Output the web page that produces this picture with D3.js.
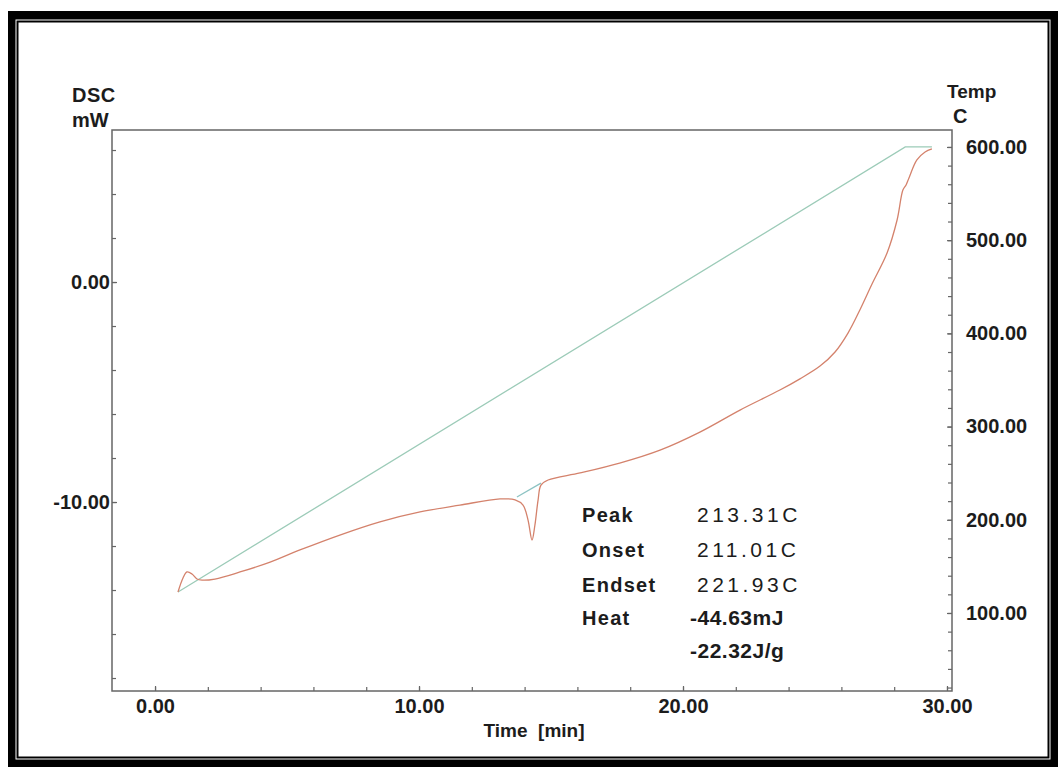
<!DOCTYPE html>
<html>
<head>
<meta charset="utf-8">
<script src="https://cdn.jsdelivr.net/npm/d3@7"></script>
<style>
body { margin: 0; background: #fff; }
text { font-family: "Liberation Sans", Arial, sans-serif; fill: #1c1c1c; }
</style>
</head>
<body>
<svg width="1060" height="767"></svg>
<script>
// tick labels
var timeTicks = [0, 10, 20, 30];
var dscTicks = [0, -10];
var tempTicks = [100, 200, 300, 400, 500, 600];

// DSC signal (mW) against time (min)
var dscTime = [0.87, 1.06, 1.21, 1.40, 1.59, 1.78, 2.27, 3.22, 4.36, 5.49, 7.0, 8.52, 10.04, 11.55, 13.07, 13.64, 13.94, 14.13, 14.28, 14.39, 14.51, 14.62, 14.89, 16.1, 17.6, 19.13, 20.64, 22.16, 23.67, 24.43, 25.19, 25.76, 26.25, 26.7, 27.16, 27.73, 28.11, 28.33, 28.45, 28.56, 28.86, 29.17, 29.43];
var dscValue = [-14.09, -13.45, -13.18, -13.27, -13.5, -13.55, -13.5, -13.18, -12.73, -12.18, -11.5, -10.9, -10.45, -10.14, -9.86, -9.9, -10.14, -10.82, -11.73, -11.05, -9.91, -9.23, -9.0, -8.68, -8.23, -7.64, -6.82, -5.82, -4.91, -4.4, -3.82, -3.18, -2.32, -1.27, -0.09, 1.32, 2.82, 4.18, 4.41, 4.73, 5.55, 5.91, 6.05];

// temperature programme (C)
var tempTime = [0.87, 28.42, 29.43];
var tempValue = [122.5, 600, 600];

// integration baseline under the peak
var baseTime = [13.71, 14.62];
var baseValue = [-9.77, -9.14];

// peak results
var resultNames = ["Peak", "Onset", "Endset", "Heat", ""];
var resultValues = ["213.31C", "211.01C", "221.93C", "-44.63mJ", "-22.32J/g"];

var svg = d3.select("svg");

// photo frame
svg.append("rect").attr("x", 8).attr("y", 11).attr("width", 1050).attr("height", 756).attr("fill", "#000");
svg.append("rect").attr("x", 15.5).attr("y", 19.5).attr("width", 1035).attr("height", 740).attr("fill", "#fff");
svg.append("rect").attr("x", 17.5).attr("y", 21.5).attr("width", 1031).attr("height", 736)
    .attr("fill", "none").attr("stroke", "#000").attr("stroke-width", 2);

var pLeft = 112, pRight = 952, pTop = 130, pBottom = 691;

var x = d3.scaleLinear().domain([-1.63, 30.19]).range([pLeft, pRight]);
var yL = d3.scaleLinear().domain([-18.59, 6.91]).range([pBottom, pTop]);
var yR = d3.scaleLinear().domain([16.3, 618.2]).range([pBottom, pTop]);
var f2 = function(v) { return v.toFixed(2); };   // plain hyphen for negatives

function styleAxis(g) {
    g.select(".domain").remove();
    g.selectAll("line").attr("stroke", "#666").attr("stroke-width", 1.2);
    g.selectAll("text").attr("font-size", 20).attr("font-weight", "bold").attr("fill", "#1c1c1c")
        .attr("font-family", "Liberation Sans, Arial, sans-serif");
}

// minor ticks
svg.append("g").attr("transform", "translate(0," + pBottom + ")")
    .call(d3.axisBottom(x).tickValues(d3.range(0, 31, 2)).tickSize(-4).tickFormat(""))
    .call(styleAxis);
svg.append("g").attr("transform", "translate(" + pLeft + ",0)")
    .call(d3.axisLeft(yL).tickValues(d3.range(-18, 7, 2)).tickSize(-4).tickFormat(""))
    .call(styleAxis);
svg.append("g").attr("transform", "translate(" + pRight + ",0)")
    .call(d3.axisRight(yR).tickValues(d3.range(20, 601, 20)).tickSize(-4).tickFormat(""))
    .call(styleAxis);

// labelled ticks
svg.append("g").attr("transform", "translate(0," + pBottom + ")")
    .call(d3.axisBottom(x).tickValues(timeTicks).tickSize(-5).tickPadding(8).tickFormat(f2))
    .call(styleAxis);
svg.append("g").attr("transform", "translate(" + pLeft + ",0)")
    .call(d3.axisLeft(yL).tickValues(dscTicks).tickSize(-5).tickPadding(2).tickFormat(f2))
    .call(styleAxis);
svg.append("g").attr("transform", "translate(" + pRight + ",0)")
    .call(d3.axisRight(yR).tickValues(tempTicks).tickSize(-5).tickPadding(14).tickFormat(f2))
    .call(styleAxis);

// plot box
svg.append("rect").attr("x", pLeft).attr("y", pTop).attr("width", pRight - pLeft).attr("height", pBottom - pTop)
    .attr("fill", "none").attr("stroke", "#666").attr("stroke-width", 1.5);

// curves
var tempLine = d3.line().x(function(d, i) { return x(tempTime[i]); }).y(function(d) { return yR(d); });
svg.append("path").attr("d", tempLine(tempValue))
    .attr("fill", "none").attr("stroke", "#9ccbb8").attr("stroke-width", 1.3);

var baseLine = d3.line().x(function(d, i) { return x(baseTime[i]); }).y(function(d) { return yL(d); });
svg.append("path").attr("d", baseLine(baseValue))
    .attr("fill", "none").attr("stroke", "#8cc3c3").attr("stroke-width", 1.3);

var dscLine = d3.line().x(function(d, i) { return x(dscTime[i]); }).y(function(d) { return yL(d); })
    .curve(d3.curveCatmullRom.alpha(0.5));
svg.append("path").attr("d", dscLine(dscValue))
    .attr("fill", "none").attr("stroke", "#d4826c").attr("stroke-width", 1.3);

// axis titles
svg.append("text").attr("x", 72).attr("y", 102).attr("font-size", 20).attr("font-weight", "bold").attr("letter-spacing", 0.5).text("DSC");
svg.append("text").attr("x", 72).attr("y", 127).attr("font-size", 20).attr("font-weight", "bold").text("mW");
svg.append("text").attr("x", 947).attr("y", 98).attr("font-size", 19).attr("font-weight", "bold").text("Temp");
svg.append("text").attr("x", 953).attr("y", 123).attr("font-size", 20).attr("font-weight", "bold").text("C");
svg.append("text").attr("x", 534).attr("y", 737).attr("font-size", 19).attr("font-weight", "bold")
    .attr("text-anchor", "middle").style("white-space", "pre").text("Time  [min]");

// results block
var rowY = [522, 557, 592, 625, 658];
svg.selectAll(".rname").data(resultNames).enter().append("text")
    .attr("class", "rname")
    .attr("x", 582).attr("y", function(d, i) { return rowY[i]; })
    .attr("font-size", 20).attr("font-weight", "bold").attr("letter-spacing", 1.3)
    .text(function(d) { return d; });
svg.selectAll(".rval").data(resultValues).enter().append("text")
    .attr("class", "rval")
    .attr("x", function(d, i) { return i < 3 ? 697 : 690; }).attr("y", function(d, i) { return rowY[i]; })
    .attr("font-size", 21).attr("font-weight", function(d, i) { return i < 3 ? "normal" : "bold"; })
    .attr("letter-spacing", function(d, i) { return i < 3 ? 3.5 : 0.5; })
    .text(function(d) { return d; });
</script>
</body>
</html>
